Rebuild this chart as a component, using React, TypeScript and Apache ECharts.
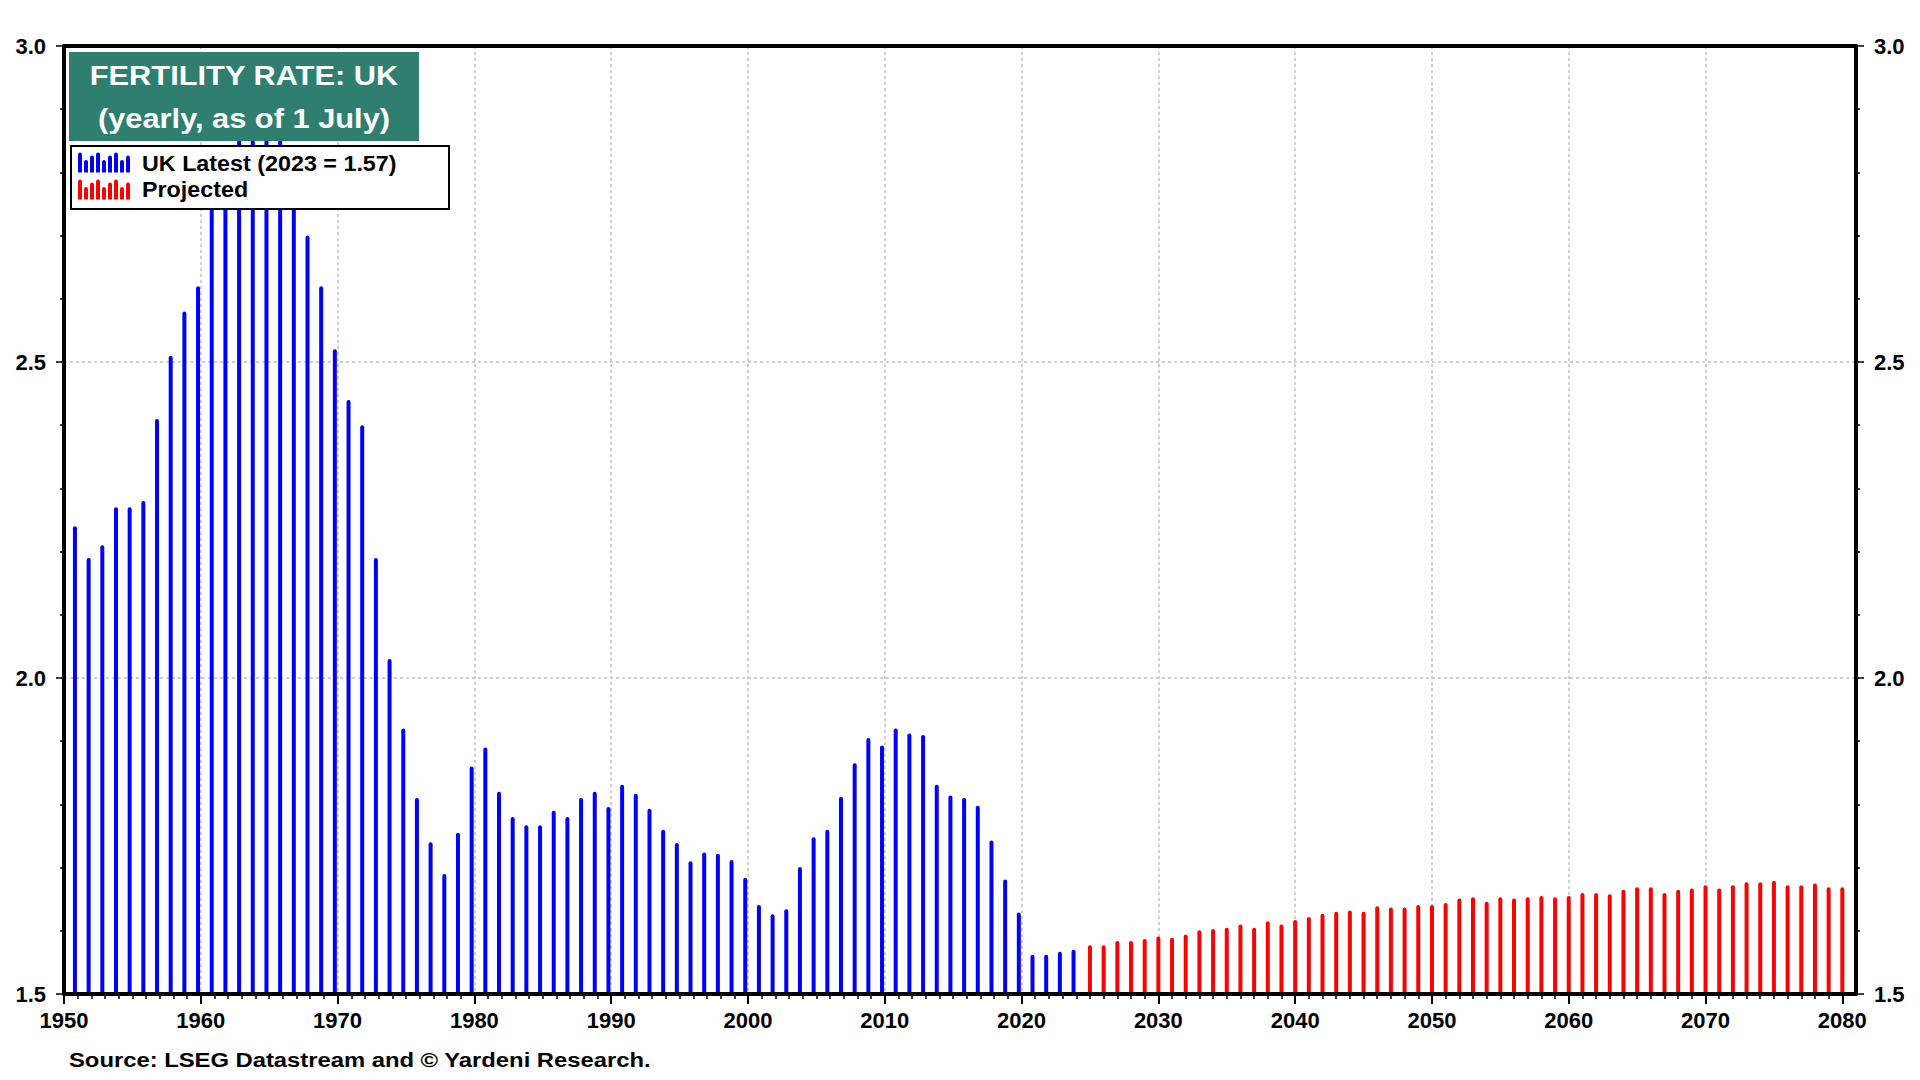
import React, { useEffect, useRef } from "react";
import * as echarts from "echarts";

const FONT = '"Liberation Sans", Arial, Helvetica, sans-serif';

const TITLE_LINES = ["FERTILITY RATE: UK", "(yearly, as of 1 July)"];
const SERIES_NAMES = ["UK Latest (2023 = 1.57)", "Projected"];
const SOURCE_TEXT = "Source: LSEG Datastream and \u00A9 Yardeni Research.";

// Actual fertility rate, 1950-2023
const ACTUAL_START_YEAR = 1950;
const ACTUAL_VALUES = [
  2.24, 2.19, 2.21, 2.27, 2.27, 2.28, 2.41, 2.51, 2.58, 2.62, // 1950-1959
  2.76, 2.82, 2.87, 2.91, 2.93, 2.88, 2.8, 2.7, 2.62, 2.52, // 1960-1969
  2.44, 2.4, 2.19, 2.03, 1.92, 1.81, 1.74, 1.69, 1.755, 1.86, // 1970-1979
  1.89, 1.82, 1.78, 1.767, 1.767, 1.79, 1.78, 1.81, 1.82, 1.796, // 1980-1989
  1.831, 1.817, 1.793, 1.76, 1.739, 1.71, 1.724, 1.722, 1.712, 1.684, // 1990-1999
  1.641, 1.626, 1.634, 1.701, 1.748, 1.76, 1.812, 1.865, 1.905, 1.893, // 2000-2009
  1.92, 1.912, 1.91, 1.831, 1.814, 1.81, 1.798, 1.743, 1.681, 1.629, // 2010-2019
  1.562, 1.562, 1.567, 1.57, // 2020-2023
];

// Projected fertility rate, 2025-2080
const PROJECTED_START_YEAR = 2025;
const PROJECTED_VALUES = [
  1.577, 1.577, 1.584, 1.584, 1.587, // 2025-2029
  1.591, 1.589, 1.594, 1.601, 1.603, 1.605, 1.61, 1.605, 1.615, 1.61, // 2030-2039
  1.617, 1.622, 1.627, 1.63, 1.632, 1.63, 1.639, 1.637, 1.637, 1.641, // 2040-2049
  1.641, 1.644, 1.651, 1.653, 1.646, 1.653, 1.651, 1.653, 1.655, 1.653, // 2050-2059
  1.655, 1.66, 1.66, 1.658, 1.665, 1.669, 1.669, 1.66, 1.665, 1.667, // 2060-2069
  1.672, 1.667, 1.672, 1.677, 1.677, 1.679, 1.672, 1.672, 1.675, 1.669, // 2070-2079
  1.669, // 2080
];

// where within the year each series is plotted
const ACTUAL_X_OFFSET = 0.8;
const PROJECTED_X_OFFSET = 0;

const X_MIN = 1950;
const X_MAX = 2081;
const X_LABEL_TICKS = [1950, 1960, 1970, 1980, 1990, 2000, 2010, 2020, 2030, 2040, 2050, 2060, 2070, 2080];
const Y_MIN = 1.5;
const Y_MAX = 3.0;
const Y_STEP = 0.5;

const BLUE = "#0000FF";
const RED = "#FF0000";
const TEAL = "#2E7F6F";
const GRID_GREY = "#cfcfcf";

const ICON_BAR_HEIGHTS = [20, 12.5, 17, 20, 12.5, 17, 20, 12.5, 17];
const TOP_Z = 100;

function legendIcon(x: number, y: number, color: string) {
  return ICON_BAR_HEIGHTS.map((h, i) => ({
    type: "rect",
    z: TOP_Z + 2,
    shape: { x: x + i * 6, y: y + 20 - h, width: 4, height: h, r: [2, 2, 0, 0] },
    style: { fill: color },
  }));
}

export default function App() {
  const ref = useRef<HTMLDivElement>(null);

  useEffect(() => {
    if (!ref.current) return;
    const chart = echarts.init(ref.current, null, { renderer: "svg" });

    const yearlyTicks: number[] = [];
    for (let y = X_MIN; y <= 2080; y++) yearlyTicks.push(y);

    const actualData = ACTUAL_VALUES.map((v, i) => [ACTUAL_START_YEAR + i + ACTUAL_X_OFFSET, v]);
    const projectedData = PROJECTED_VALUES.map((v, i) => [PROJECTED_START_YEAR + i + PROJECTED_X_OFFSET, v]);

    const axisLabelStyle = {
      fontFamily: FONT,
      fontSize: 22,
      fontWeight: "bold",
      color: "#000",
    };
    const gridLine = {
      show: true,
      showMinLine: false,
      showMaxLine: false,
      lineStyle: { color: GRID_GREY, width: 2, type: [3, 3] },
    };

    const yAxisBase = (position: "left" | "right", withSplit: boolean) => ({
      type: "value",
      position,
      min: Y_MIN,
      max: Y_MAX,
      interval: Y_STEP,
      axisLine: { show: true, onZero: false, lineStyle: { color: "#000", width: 4 } },
      axisTick: { show: true, inside: false, length: 8, lineStyle: { color: "#000", width: 1.5 } },
      minorTick: { show: true, splitNumber: 5, length: 4, lineStyle: { color: "#000", width: 1.5 } },
      axisLabel: {
        show: true,
        margin: 18,
        ...axisLabelStyle,
        formatter: (v: number) => v.toFixed(1),
      },
      splitLine: withSplit ? gridLine : { show: false },
      minorSplitLine: { show: false },
      z: 0,
    });

    const textEl = (text: string, x: number, y: number, size: number, scaleX: number, fill: string, align: string, z: number) => ({
      type: "text",
      x,
      y,
      scaleX,
      z,
      style: {
        text,
        fill,
        font: `bold ${size}px ${FONT}`,
        textAlign: align,
        textVerticalAlign: "middle",
      },
    });

    const option: any = {
      animation: false,
      backgroundColor: "#ffffff",
      textStyle: { fontFamily: FONT },
      grid: { left: 64, right: 64, top: 46, bottom: 86, containLabel: false },
      xAxis: [
        {
          type: "value",
          position: "bottom",
          min: X_MIN,
          max: X_MAX,
          interval: 1,
          axisLine: { show: true, onZero: false, lineStyle: { color: "#000", width: 4 } },
          axisTick: {
            show: true,
            length: 5,
            customValues: yearlyTicks,
            lineStyle: { color: "#000", width: 1.5 },
          },
          axisLabel: { show: false },
          splitLine: { show: false },
          z: 5,
        },
        {
          type: "value",
          position: "bottom",
          min: X_MIN,
          max: X_MAX,
          interval: 10,
          axisLine: { show: false, onZero: false },
          axisTick: {
            show: true,
            length: 10,
            customValues: X_LABEL_TICKS,
            lineStyle: { color: "#000", width: 2 },
          },
          axisLabel: {
            show: true,
            margin: 15,
            customValues: X_LABEL_TICKS,
            ...axisLabelStyle,
            formatter: (v: number) => (v % 10 === 0 ? String(v) : ""),
          },
          splitLine: gridLine,
          z: 0,
        },
        {
          type: "value",
          position: "top",
          min: X_MIN,
          max: X_MAX,
          axisLine: { show: true, onZero: false, lineStyle: { color: "#000", width: 4 } },
          axisTick: { show: false },
          axisLabel: { show: false },
          splitLine: { show: false },
          z: 5,
        },
      ],
      yAxis: [yAxisBase("left", true), yAxisBase("right", false)],
      series: [
        {
          name: SERIES_NAMES[0],
          type: "bar",
          xAxisIndex: 0,
          yAxisIndex: 0,
          data: actualData,
          barWidth: 4,
          barGap: "-100%",
          itemStyle: { color: BLUE, borderRadius: [2, 2, 0, 0] },
          z: 2,
        },
        {
          name: SERIES_NAMES[1],
          type: "bar",
          xAxisIndex: 0,
          yAxisIndex: 0,
          data: projectedData,
          barWidth: 4,
          barGap: "-100%",
          itemStyle: { color: RED, borderRadius: [2, 2, 0, 0] },
          z: 2,
        },
      ],
      graphic: [
        {
          type: "rect",
          z: TOP_Z,
          shape: { x: 69, y: 52, width: 350, height: 89 },
          style: { fill: TEAL },
        },
        textEl(TITLE_LINES[0], 244, 75, 28, 1.1, "#ffffff", "center", TOP_Z + 1),
        textEl(TITLE_LINES[1], 244, 118, 28, 1.1, "#ffffff", "center", TOP_Z + 1),
        {
          type: "rect",
          z: TOP_Z,
          shape: { x: 71, y: 146, width: 378, height: 63 },
          style: { fill: "#ffffff", stroke: "#000000", lineWidth: 2 },
        },
        ...legendIcon(78, 152.5, BLUE),
        ...legendIcon(78, 179.5, RED),
        textEl(SERIES_NAMES[0], 142, 163, 22, 1.06, "#000000", "left", TOP_Z + 1),
        textEl(SERIES_NAMES[1], 142, 189.5, 22, 1.06, "#000000", "left", TOP_Z + 1),
        textEl(SOURCE_TEXT, 69, 1060, 20, 1.19, "#000000", "left", TOP_Z),
      ],
    };

    chart.setOption(option);
    return () => chart.dispose();
  }, []);

  return (
    <div
      ref={ref}
      style={{ position: "absolute", left: 0, top: 0, width: 1920, height: 1080, background: "#ffffff" }}
    />
  );
}
